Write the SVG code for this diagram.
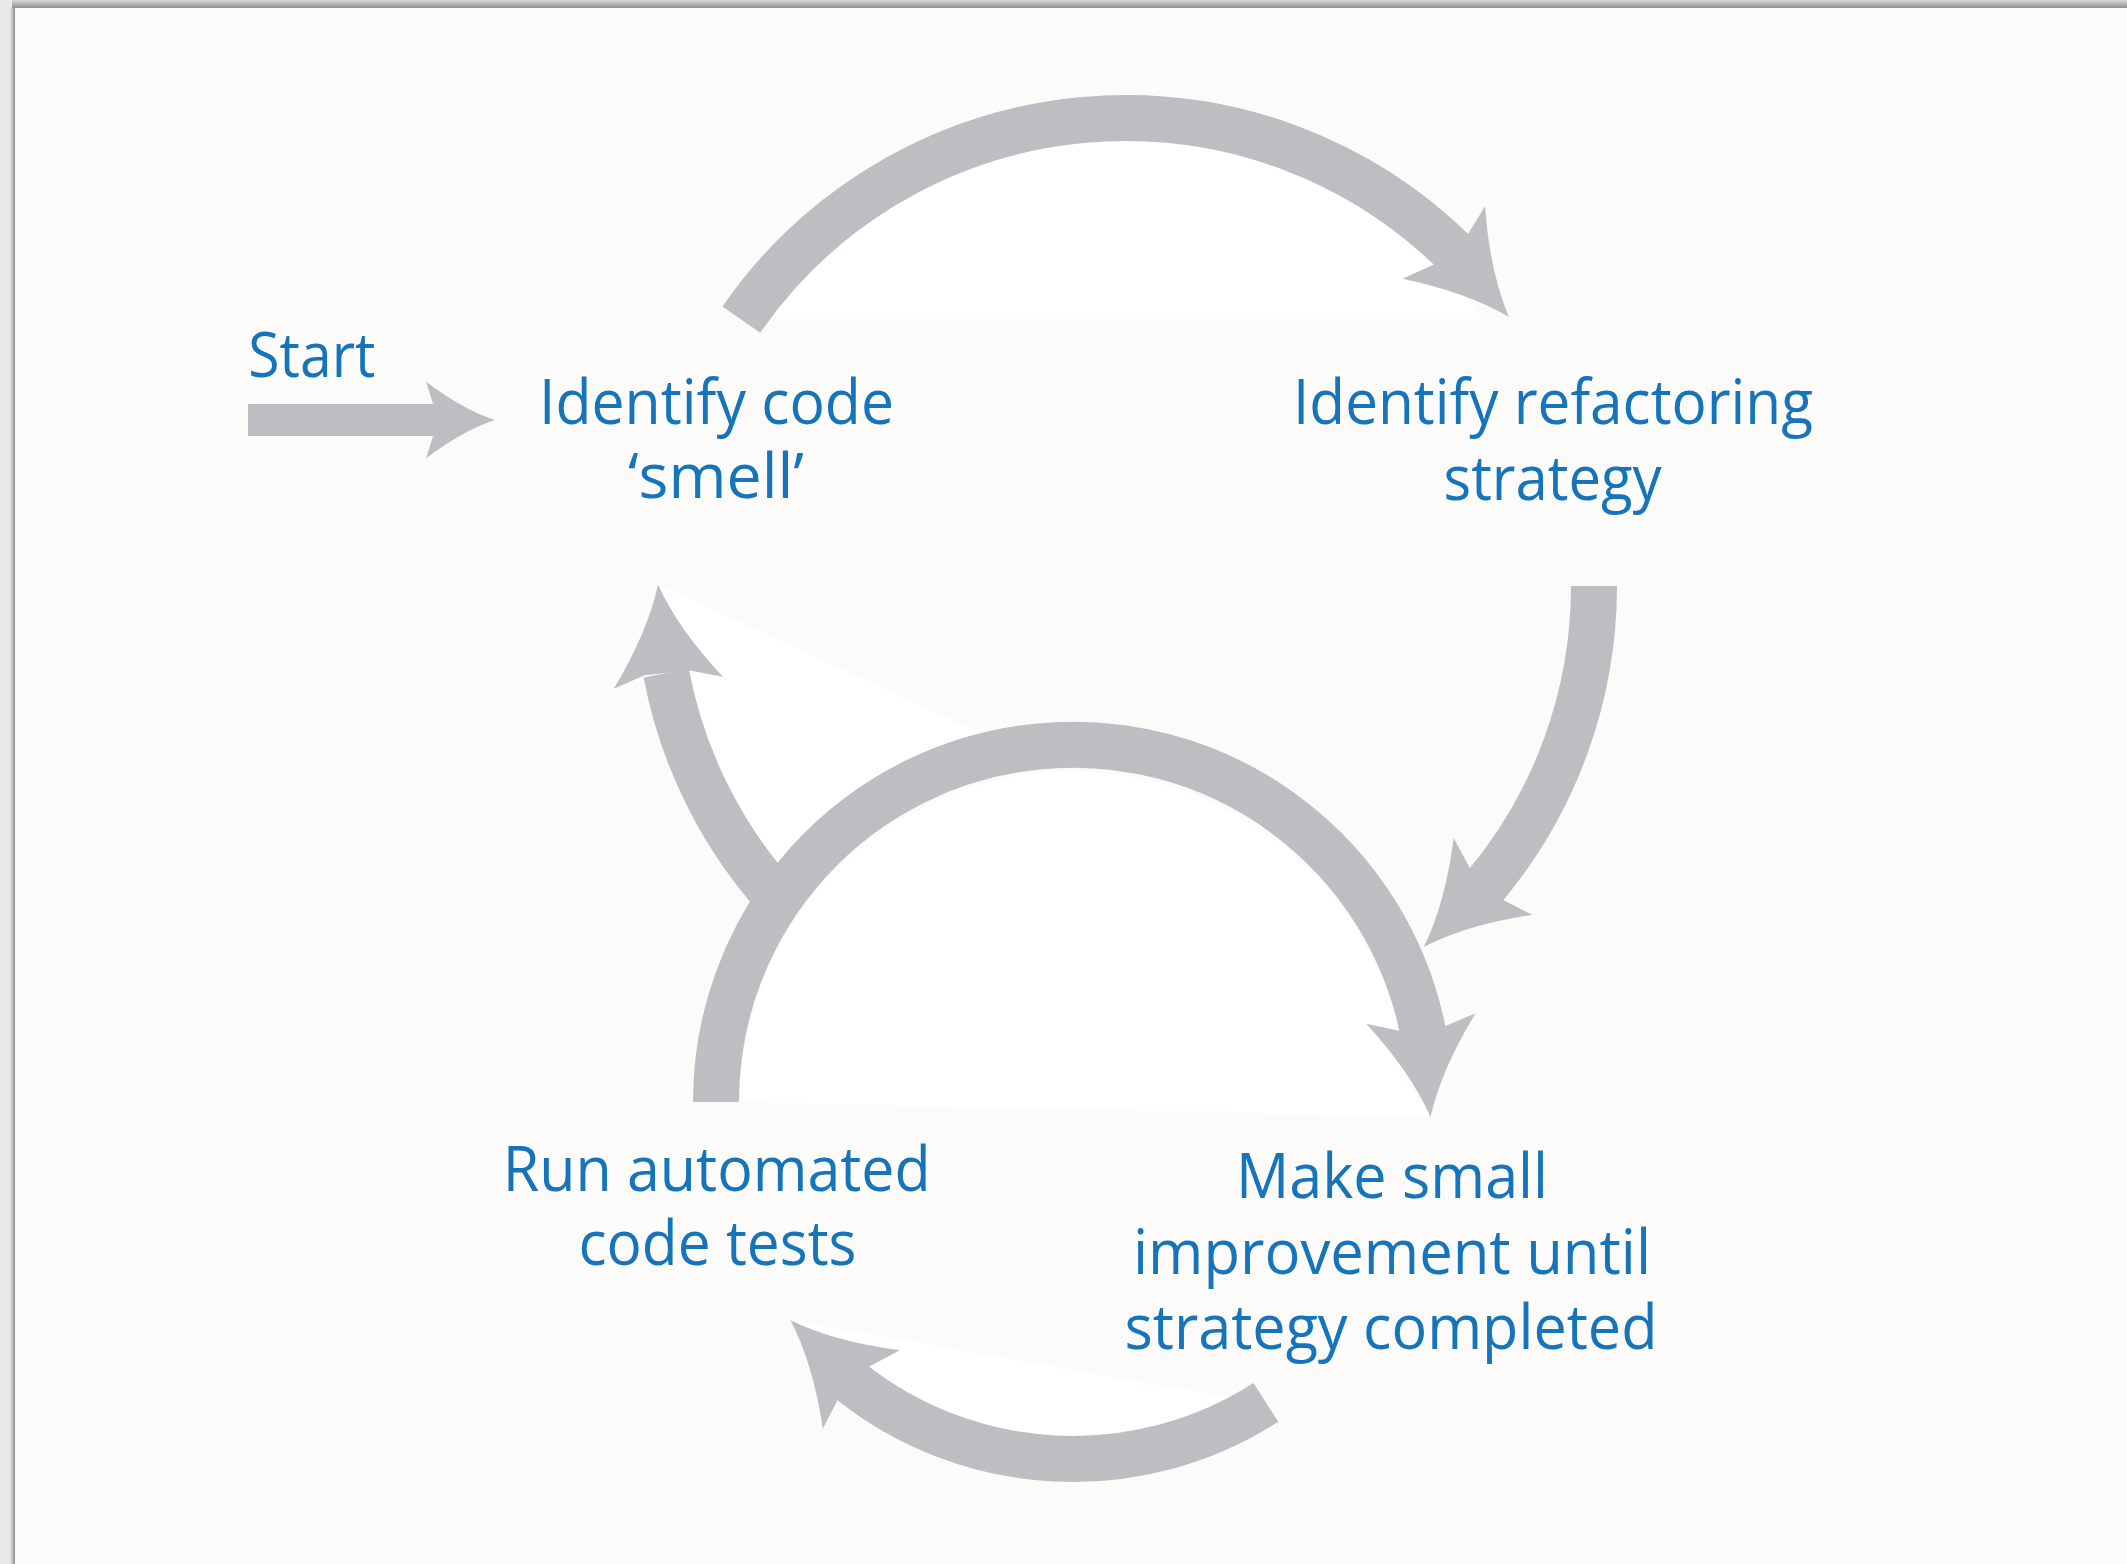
<svg xmlns="http://www.w3.org/2000/svg" width="2127" height="1564" viewBox="0 0 2127 1564">
  <defs>
    <style>
      .lbl { font-family: "Open Sans", "Noto Sans", "Liberation Sans", sans-serif; font-size: 63px; fill: #1574ba; text-anchor: middle; }
      .shaft { fill: none; stroke: #bdbec1; stroke-width: 46; stroke-linecap: butt; }
      .head { fill: #bdbec1; }
      .glow { fill: #ffffff; }
    </style>
    <linearGradient id="topG" x1="0" y1="0" x2="0" y2="1">
      <stop offset="0" stop-color="#d8d8d8"/>
      <stop offset="1" stop-color="#8e8e8e"/>
    </linearGradient>
    <linearGradient id="leftG" x1="0" y1="0" x2="1" y2="0">
      <stop offset="0" stop-color="#e9e9e9"/>
      <stop offset="1" stop-color="#8e8e8e"/>
    </linearGradient>
    <path id="ah" d="M0,0 Q-46,-15 -99,-55 L-89,-23 L-89,23 L-99,55 Q-46,15 0,0 Z"/>
  </defs>

  <!-- page -->
  <rect x="0" y="0" width="2127" height="1564" fill="#e9e9e9"/>
  <rect x="12" y="0" width="2115" height="8" fill="url(#topG)"/>
  <rect x="10" y="8" width="5" height="1556" fill="url(#leftG)"/>
  <rect x="15" y="8" width="2112" height="1556" fill="#fcfbfa"/>

  <!-- faint white areas of the printed page -->
  <g id="page-tint">
    <path class="glow" d="M770,319 A445,445 0 0,1 1482,319 Z"/>
    <path class="glow" d="M739,1102 A334,334 0 0,1 1406,1080 L1431,1117 Z"/>
    <path class="glow" d="M658,584 L980,733 L930,760 L800,860 L757,874 L721,820 L686,746 L665,667 Z"/>
    <path class="glow" d="M790,1320 L1245.5,1400.8 A345,345 0 0,1 829,1346 Z"/>
  </g>

  <g id="connectors">
    <!-- Start arrow -->
    <rect x="248" y="404" width="188" height="32" fill="#bdbec1"/>
    <use href="#ah" class="head" transform="translate(495,420) scale(0.696)"/>
    <!-- top arc: smell -> strategy -->
    <path class="shaft" d="M741.3,319.6 A468,468 0 0,1 1453.2,251.4"/>
    <use href="#ah" class="head" transform="translate(1508.9,316.9) rotate(48.8)"/>
    <!-- right arc: strategy -> improvement -->
    <path class="shaft" d="M1594,586 A468,468 0 0,1 1484.6,886.6"/>
    <use href="#ah" class="head" transform="translate(1423.7,947.1) rotate(134.4)"/>
    <!-- left arc: tests -> smell -->
    <path class="shaft" d="M783.7,905.2 A468,468 0 0,1 666.2,673.1"/>
    <use href="#ah" class="head" transform="translate(658,584.4) rotate(-96.07)"/>
    <!-- small circle main arc: tests -> improvement -->
    <path class="shaft" d="M716,1102 A357,357 0 0,1 1423,1031.4"/>
    <use href="#ah" class="head" transform="translate(1430.5,1117) rotate(84.48)"/>
    <!-- bottom arc: improvement -> tests -->
    <path class="shaft" d="M1265.9,1402.4 A357,357 0 0,1 850.8,1381.4"/>
    <use href="#ah" class="head" transform="translate(790.5,1320.3) rotate(-135.66)"/>
  </g>

  <g id="node-start">
    <text class="lbl" x="311.8" y="377" textLength="127" lengthAdjust="spacingAndGlyphs">Start</text>
  </g>
  <g id="node-smell">
    <text class="lbl" x="716.5" y="424.3" textLength="355" lengthAdjust="spacingAndGlyphs">Identify code</text>
    <text class="lbl" x="716" y="498.3" textLength="176" lengthAdjust="spacingAndGlyphs">‘smell’</text>
  </g>
  <g id="node-strategy">
    <text class="lbl" x="1553" y="424" textLength="520" lengthAdjust="spacingAndGlyphs">Identify refactoring</text>
    <text class="lbl" x="1552.5" y="499.5" textLength="218" lengthAdjust="spacingAndGlyphs">strategy</text>
  </g>
  <g id="node-tests">
    <text class="lbl" x="716.7" y="1190.7" textLength="428" lengthAdjust="spacingAndGlyphs">Run automated</text>
    <text class="lbl" x="717.5" y="1265" textLength="278" lengthAdjust="spacingAndGlyphs">code tests</text>
  </g>
  <g id="node-improve">
    <text class="lbl" x="1392" y="1198.3" textLength="312" lengthAdjust="spacingAndGlyphs">Make small</text>
    <text class="lbl" x="1392" y="1274" textLength="518" lengthAdjust="spacingAndGlyphs">improvement until</text>
    <text class="lbl" x="1391" y="1349" textLength="533" lengthAdjust="spacingAndGlyphs">strategy completed</text>
  </g>
</svg>
